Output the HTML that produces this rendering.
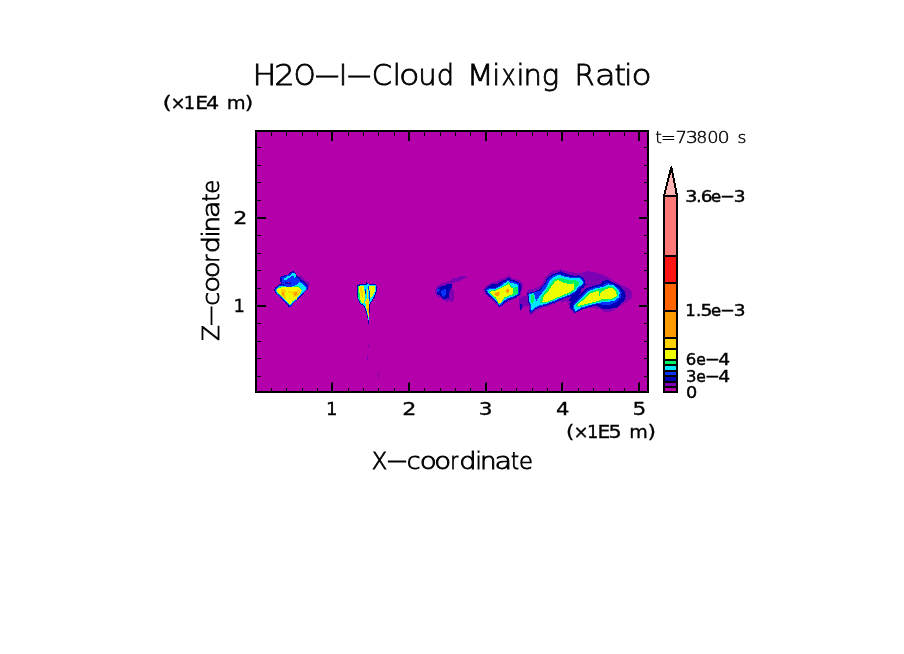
<!DOCTYPE html>
<html lang="en"><head><meta charset="utf-8"><title>H2O-I-Cloud Mixing Ratio</title>
<style>
html,body{margin:0;padding:0;background:#fff;}
body{width:904px;height:654px;overflow:hidden;}
svg{display:block;}
text{font-family:"DejaVu Sans","Liberation Sans",sans-serif;fill:#000;}
.thin{font-family:"DejaVu Sans Light","DejaVu Sans","Liberation Sans",sans-serif;font-weight:200;}
.thin{stroke:#000;stroke-width:0.8px;}
.thinx{font-family:"DejaVu Sans Light","DejaVu Sans","Liberation Sans",sans-serif;font-weight:200;stroke:#000;stroke-width:0.85px;}
.thin2{font-family:"DejaVu Sans Light","DejaVu Sans","Liberation Sans",sans-serif;font-weight:200;stroke:#000;stroke-width:0.45px;}
.lab{stroke:#000;stroke-width:0.3px;}
.cb{stroke:#000;stroke-width:0.45px;}
</style></head><body>
<svg width="904" height="654" viewBox="0 0 904 654">
<rect width="904" height="654" fill="#fff"/>
<g shape-rendering="crispEdges">
<rect x="255" y="130" width="394" height="263" fill="#000"/>
<rect x="257" y="132" width="390" height="259" fill="#B400AA"/>
</g>
<g shape-rendering="crispEdges">
<g transform="translate(270,265) scale(0.0764526)">
<polygon fill="#7D00B4" points="380,120 520,240 510,290 470,300 400,200"/>
<polygon fill="#0000B4" points="300,75 330,95 345,130 385,160 410,190 440,215 470,245 495,270 495,320 460,345 430,385 390,430 340,470 300,510 270,555 250,555 215,510 170,460 120,410 75,365 55,330 70,295 110,265 140,240 135,200 130,170 150,145 190,135 230,125 265,100 290,80"/>
<polygon fill="#0A32FF" points="150,160 200,150 300,95 335,120 350,160 400,200 380,240 330,270 200,270 160,240"/>
<polygon fill="#00E6FF" points="185,175 230,150 275,128 300,105 335,115 342,150 322,178 312,150 298,136 270,156 232,176 208,200 190,200"/>
<polygon fill="#0000B4" points="195,220 270,220 270,255 195,255"/>
<polygon fill="#7D00B4" points="205,225 225,225 225,240 205,240"/>
<polygon fill="#7D00B4" points="240,225 262,225 262,240 240,240"/>
<polygon fill="#0A32FF" points="65,325 100,280 160,265 200,275 260,280 320,270 360,250 385,210 410,215 445,245 485,285 488,320 445,355 405,405 355,455 315,495 270,545 245,530 200,480 150,435 100,390 70,350"/>
<polygon fill="#00E6FF" points="75,320 110,285 160,272 200,280 260,285 320,275 360,255 385,222 405,232 435,262 472,295 475,320 435,350 395,400 345,450 305,490 268,530 245,515 200,465 150,420 100,375 75,345"/>
<polygon fill="#00F064" points="85,320 115,292 170,280 230,287 300,287 350,270 385,285 420,320 405,370 370,410 330,450 290,490 265,522 240,502 200,457 150,412 105,370 85,345"/>
<polygon fill="#F0FF00" points="95,320 120,298 170,288 230,294 300,294 360,284 395,304 415,332 400,370 370,408 350,440 345,470 335,445 320,460 315,485 300,470 265,515 240,497 200,452 150,408 110,368 92,345"/>
<polygon fill="#FFD200" points="145,320 195,310 205,340 200,390 215,430 200,450 170,420 145,400"/>
<polygon fill="#FFD200" points="290,350 340,335 390,325 395,360 370,395 330,425 300,415 290,380"/>
<polygon fill="#FFD200" points="230,345 280,345 285,365 235,360"/>
<polygon fill="#FF9B00" points="160,350 185,345 185,400 165,405"/>
<polygon fill="#FF9B00" points="310,365 360,350 355,385 325,405"/>
</g>
<g transform="translate(345,275) scale(0.0764526)">
<polygon fill="#0000B4" points="160,130 200,120 270,120 285,90 300,110 330,125 370,115 400,115 415,150 415,210 400,260 380,310 350,350 330,380 325,430 320,500 315,570 312,640 300,640 298,580 285,520 270,470 250,420 220,390 185,360 165,320 160,250 155,180"/>
<polygon fill="#00E6FF" points="165,140 270,130 300,120 330,135 370,125 400,130 405,200 390,255 365,310 340,345 320,380 318,450 312,560 305,600 300,560 290,500 275,450 255,410 230,385 195,355 175,315 170,240"/>
<polygon fill="#00F064" points="170,150 250,145 260,300 250,365 225,375 195,345 178,315 172,240"/>
<polygon fill="#F0FF00" points="185,150 245,150 255,200 260,300 250,360 225,370 205,340 195,280 185,200"/>
<polygon fill="#FFD200" points="195,160 215,160 235,230 240,300 225,310 205,240"/>
<polygon fill="#F0FF00" points="320,150 390,140 395,200 375,250 345,290 330,300 325,250 320,190"/>
<polygon fill="#0A32FF" points="306,150 320,150 322,340 312,330"/>
<polygon fill="#0A32FF" points="255,185 275,185 278,245 262,245"/>
<polygon fill="#0000B4" points="262,215 274,215 274,240 264,240"/>
<polygon fill="#F0FF00" points="285,180 302,180 308,330 318,400 318,480 312,560 300,540 290,470 270,400 265,350 285,300"/>
<polygon fill="#FFD200" points="290,200 300,200 305,330 316,400 316,480 308,530 298,500 290,440 275,400 275,350 290,300"/>
<polygon fill="#FF9B00" points="292,430 312,430 310,500 300,500"/>
</g>
<g transform="translate(0,0) scale(1)">
<polygon fill="#7D00B4" points="368,345 369,345 369,348 368,348"/>
<polygon fill="#7D00B4" points="367,356 368,356 368,360 367,360"/>
<polygon fill="#7D00B4" points="364,367 365,367 365,369 364,369"/>
<polygon fill="#7D00B4" points="378,373 379,373 379,378 378,378"/>
</g>
<g transform="translate(425,260) scale(0.0764526)">
<polygon fill="#7D00B4" points="130,400 150,360 180,330 230,305 290,285 340,270 360,240 420,230 470,210 540,210 545,230 500,245 470,270 420,285 370,300 355,340 355,380 375,400 380,520 350,555 330,540 280,545 240,530 200,500 160,480 140,450"/>
<polygon fill="#0000B4" points="150,430 160,380 190,350 260,335 300,315 350,315 355,345 330,390 315,440 310,490 280,510 250,510 210,480 180,455"/>
<polygon fill="#0A32FF" points="165,370 190,385 185,410 160,420"/>
<polygon fill="#0A32FF" points="215,400 270,380 275,430 265,470 240,480 215,450"/>
</g>
<g transform="translate(480,265) scale(0.0764526)">
<polygon fill="#7D00B4" points="45,320 80,280 130,240 200,215 260,190 320,170 375,135 410,160 450,185 510,195 550,225 570,270 550,330 530,390 470,440 400,470 330,500 280,545 245,560 215,520 170,470 110,420 60,370"/>
<polygon fill="#7D00B4" points="510,420 600,400 654,380 654,540 600,540 560,560 520,610"/>
<polygon fill="#0000B4" points="525,520 550,500 545,580 525,590"/>
<polygon fill="#0000B4" points="60,320 100,285 150,255 230,250 270,215 330,195 375,165 400,190 450,200 500,220 530,250 535,320 515,395 460,430 390,455 325,490 280,530 250,550 225,510 180,460 120,410 75,365"/>
<polygon fill="#0A32FF" points="80,320 110,300 200,300 260,270 300,230 340,215 375,190 400,210 450,220 505,240 515,300 505,390 450,420 380,440 320,475 280,520 250,540 230,505 185,450 130,400 95,360"/>
<polygon fill="#00E6FF" points="95,330 125,315 210,310 270,280 320,240 375,205 400,230 450,245 500,260 500,380 440,410 370,430 320,460 275,510 250,530 235,495 195,445 140,395 105,360"/>
<polygon fill="#00F064" points="110,340 200,325 270,295 330,260 380,220 395,260 440,300 495,280 495,375 440,400 370,415 315,445 270,500 245,515 230,480 200,435 150,390 115,360"/>
<polygon fill="#F0FF00" points="120,350 200,335 270,305 340,270 380,245 400,285 430,310 430,380 380,400 320,425 290,470 265,505 240,500 225,460 200,420 155,385"/>
<polygon fill="#FFD200" points="175,375 220,350 265,345 270,370 245,400 230,420 200,400"/>
<polygon fill="#FFD200" points="330,330 360,300 385,315 385,350 360,375 335,360"/>
<polygon fill="#FF9B00" points="190,378 225,358 255,355 240,395 225,410 205,395"/>
<polygon fill="#FF9B00" points="340,330 362,310 378,322 376,348 358,365 342,355"/>
</g>
<g transform="translate(515,255) scale(0.107032)">
<polygon fill="#7D00B4" points="110,350 130,320 200,310 250,270 290,200 330,160 400,135 450,160 520,175 600,165 700,180 700,420 480,430 400,445 330,475 250,495 190,525 150,560 130,545 130,470 110,440"/>
</g>
<g transform="translate(560,255) scale(0.107032)">
<polygon fill="#7D00B4" points="0,130 100,160 180,170 260,150 340,165 420,190 500,240 580,280 640,310 675,350 670,400 620,440 560,480 500,520 430,540 380,510 300,490 200,510 130,550 90,510 80,470 60,430 0,420"/>
<polygon fill="#0000B4" points="0,150 60,175 130,195 200,205 235,240 240,280 215,310 190,325 200,350 160,390 110,440 80,420 120,370 100,380 0,425"/>
<polygon fill="#0A32FF" points="0,165 80,195 160,208 210,222 230,255 215,295 180,310 150,350 80,392 0,420"/>
<polygon fill="#00E6FF" points="0,185 80,215 160,225 200,235 220,260 200,290 170,300 140,340 80,380 0,415"/>
<polygon fill="#00F064" points="0,215 80,235 150,245 180,260 150,290 130,330 70,370 0,400"/>
<polygon fill="#F0FF00" points="0,245 60,260 125,265 130,300 110,340 50,370 0,390"/>
<polygon fill="#0000B4" points="90,490 100,440 140,400 200,360 250,310 310,290 380,270 400,240 450,235 500,260 560,290 600,330 615,380 600,430 560,460 540,490 480,500 420,510 370,490 340,470 280,485 200,510 140,540 120,520"/>
<polygon fill="#0A32FF" points="120,480 145,435 200,380 260,325 330,300 400,285 440,260 500,275 550,310 575,350 570,400 540,430 500,450 460,470 400,470 360,455 280,475 200,500 140,535 125,510"/>
<polygon fill="#00E6FF" points="130,470 160,440 210,390 270,335 340,310 410,295 450,275 500,285 540,320 560,350 550,395 510,425 440,440 370,445 290,465 200,490 145,525 135,500"/>
<polygon fill="#00F064" points="150,465 220,400 280,345 350,320 420,305 455,290 500,300 530,330 545,355 535,390 500,415 430,430 370,435 290,455 210,480 155,490"/>
<polygon fill="#F0FF00" points="165,465 230,410 290,355 360,335 365,400 375,360 410,330 460,305 500,315 525,345 530,380 495,405 420,415 380,415 360,430 290,445 220,465 170,475"/>
</g>
<g transform="translate(515,255) scale(0.107032)">
<polygon fill="#0000B4" points="115,355 180,345 230,320 280,260 300,215 350,180 410,160 450,180 530,195 600,190 640,215 654,260 640,290 600,320 570,360 520,385 450,410 380,440 310,465 240,485 190,510 150,545 135,520 140,470 125,450 120,400"/>
<polygon fill="#0A32FF" points="125,360 180,350 235,330 285,270 310,225 355,192 410,172 450,190 530,205 600,202 635,225 645,262 625,288 595,312 565,350 510,380 440,405 370,435 300,460 235,478 190,500 155,532 140,512 145,465 130,445"/>
<polygon fill="#00E6FF" points="135,365 180,355 185,400 200,430 240,370 290,310 320,250 360,205 410,185 450,200 530,215 600,215 630,240 635,270 600,295 560,340 500,375 430,400 360,430 290,455 230,470 190,490 160,520 145,505 150,460 135,440"/>
<polygon fill="#00F064" points="145,375 180,365 180,410 170,450 150,445"/>
<polygon fill="#00F064" points="230,450 245,390 290,330 330,270 370,225 420,210 460,225 530,235 590,240 600,270 570,310 540,345 480,375 410,400 340,430 280,450"/>
<polygon fill="#F0FF00" points="255,440 265,390 310,340 350,280 380,240 410,235 450,260 510,270 550,265 550,320 520,345 460,370 400,395 330,425 290,440"/>
</g>
</g>
<g shape-rendering="crispEdges" fill="#000">
<rect x="271" y="388" width="1" height="3"/><rect x="271" y="132" width="1" height="4"/><rect x="286" y="388" width="1" height="3"/><rect x="286" y="132" width="1" height="4"/><rect x="302" y="388" width="1" height="3"/><rect x="302" y="132" width="1" height="4"/><rect x="317" y="388" width="1" height="3"/><rect x="317" y="132" width="1" height="4"/><rect x="331" y="383" width="1" height="8"/><rect x="332" y="382" width="1" height="9"/><rect x="331" y="132" width="2" height="9"/><rect x="348" y="388" width="1" height="3"/><rect x="348" y="132" width="1" height="4"/><rect x="363" y="388" width="1" height="3"/><rect x="363" y="132" width="1" height="4"/><rect x="378" y="388" width="1" height="3"/><rect x="378" y="132" width="1" height="4"/><rect x="394" y="388" width="1" height="3"/><rect x="394" y="132" width="1" height="4"/><rect x="408" y="383" width="1" height="8"/><rect x="409" y="382" width="1" height="9"/><rect x="408" y="132" width="2" height="9"/><rect x="424" y="388" width="1" height="3"/><rect x="424" y="132" width="1" height="4"/><rect x="440" y="388" width="1" height="3"/><rect x="440" y="132" width="1" height="4"/><rect x="455" y="388" width="1" height="3"/><rect x="455" y="132" width="1" height="4"/><rect x="470" y="388" width="1" height="3"/><rect x="470" y="132" width="1" height="4"/><rect x="485" y="383" width="1" height="8"/><rect x="486" y="382" width="1" height="9"/><rect x="485" y="132" width="2" height="9"/><rect x="501" y="388" width="1" height="3"/><rect x="501" y="132" width="1" height="4"/><rect x="516" y="388" width="1" height="3"/><rect x="516" y="132" width="1" height="4"/><rect x="532" y="388" width="1" height="3"/><rect x="532" y="132" width="1" height="4"/><rect x="547" y="388" width="1" height="3"/><rect x="547" y="132" width="1" height="4"/><rect x="561" y="383" width="1" height="8"/><rect x="562" y="382" width="1" height="9"/><rect x="561" y="132" width="2" height="9"/><rect x="578" y="388" width="1" height="3"/><rect x="578" y="132" width="1" height="4"/><rect x="593" y="388" width="1" height="3"/><rect x="593" y="132" width="1" height="4"/><rect x="609" y="388" width="1" height="3"/><rect x="609" y="132" width="1" height="4"/><rect x="624" y="388" width="1" height="3"/><rect x="624" y="132" width="1" height="4"/><rect x="638" y="383" width="1" height="8"/><rect x="639" y="382" width="1" height="9"/><rect x="638" y="132" width="2" height="9"/><rect x="257" y="376" width="4" height="1"/><rect x="644" y="376" width="3" height="1"/><rect x="257" y="358" width="4" height="1"/><rect x="644" y="358" width="3" height="1"/><rect x="257" y="341" width="4" height="1"/><rect x="644" y="341" width="3" height="1"/><rect x="257" y="323" width="4" height="1"/><rect x="644" y="323" width="3" height="1"/><rect x="257" y="305" width="9" height="2"/><rect x="639" y="305" width="8" height="2"/><rect x="257" y="288" width="4" height="1"/><rect x="644" y="288" width="3" height="1"/><rect x="257" y="270" width="4" height="1"/><rect x="644" y="270" width="3" height="1"/><rect x="257" y="253" width="4" height="1"/><rect x="644" y="253" width="3" height="1"/><rect x="257" y="235" width="4" height="1"/><rect x="644" y="235" width="3" height="1"/><rect x="257" y="217" width="9" height="2"/><rect x="639" y="217" width="8" height="2"/><rect x="257" y="200" width="4" height="1"/><rect x="644" y="200" width="3" height="1"/><rect x="257" y="182" width="4" height="1"/><rect x="644" y="182" width="3" height="1"/><rect x="257" y="165" width="4" height="1"/><rect x="644" y="165" width="3" height="1"/><rect x="257" y="147" width="4" height="1"/><rect x="644" y="147" width="3" height="1"/>
</g>
<g shape-rendering="crispEdges" fill="#000">
<rect x="664" y="387" width="13" height="5" fill="#B400AA"/><rect x="664" y="382" width="13" height="5" fill="#7D00B4"/><rect x="664" y="376" width="13" height="6" fill="#0000B4"/><rect x="664" y="371" width="13" height="5" fill="#0A32FF"/><rect x="664" y="365" width="13" height="6" fill="#00E6FF"/><rect x="664" y="360" width="13" height="5" fill="#00F064"/><rect x="664" y="349" width="13" height="11" fill="#F0FF00"/><rect x="664" y="338" width="13" height="11" fill="#FFD200"/><rect x="664" y="311" width="13" height="27" fill="#FF9B00"/><rect x="664" y="283" width="13" height="28" fill="#FF6400"/><rect x="664" y="256" width="13" height="27" fill="#FF1414"/><rect x="664" y="196" width="13" height="60" fill="#FF7878"/><rect x="663" y="391" width="15" height="2"/><rect x="663" y="386" width="15" height="2"/><rect x="663" y="381" width="15" height="2"/><rect x="663" y="375" width="15" height="2"/><rect x="663" y="370" width="15" height="2"/><rect x="663" y="364" width="15" height="2"/><rect x="663" y="359" width="15" height="2"/><rect x="663" y="348" width="15" height="2"/><rect x="663" y="337" width="15" height="2"/><rect x="663" y="310" width="15" height="2"/><rect x="663" y="282" width="15" height="2"/><rect x="663" y="255" width="15" height="2"/><rect x="663" y="195" width="15" height="2"/><rect x="663" y="195" width="2" height="198"/><rect x="676" y="195" width="2" height="198"/><polygon points="664,196 671.4,167.2 677,196" fill="#FFB4B4" stroke="#000" stroke-width="2" stroke-linejoin="round"/>
</g>
<text class="thin" x="252.43 274.27 293.84 313.15 338.75 345.51 371.66 392.66 398.95 418.20 436.72 454.12 466.79 492.19 501.47 516.59 523.53 541.77 559.17 574.42 595.13 614.62 624.19 631.50" y="84.80 84.80 84.80 83.70 84.80 83.70 84.80 84.80 84.80 84.80 84.80 84.80 84.80 84.80 84.80 84.80 84.80 84.80 84.80 84.80 84.80 84.80 84.80 84.80" font-size="29" ><tspan textLength="23.91" lengthAdjust="spacingAndGlyphs">H</tspan><tspan textLength="20.44" lengthAdjust="spacingAndGlyphs">2</tspan><tspan textLength="21.82" lengthAdjust="spacingAndGlyphs">O</tspan><tspan textLength="27.70" lengthAdjust="spacingAndGlyphs">-</tspan>I<tspan textLength="27.28" lengthAdjust="spacingAndGlyphs">-</tspan>Cl<tspan textLength="20.52" lengthAdjust="spacingAndGlyphs">o</tspan>u<tspan textLength="17.42" lengthAdjust="spacingAndGlyphs">d</tspan> <tspan textLength="26.93" lengthAdjust="spacingAndGlyphs">M</tspan>i<tspan textLength="14.16" lengthAdjust="spacingAndGlyphs">x</tspan>ing R<tspan textLength="20.70" lengthAdjust="spacingAndGlyphs">a</tspan>ti<tspan textLength="20.12" lengthAdjust="spacingAndGlyphs">o</tspan></text>
<text class="lab" x="162.53 170.50 183.67 195.19 206.09 216.89 226.74 244.75" y="108.7" font-size="18" ><tspan textLength="9.40" lengthAdjust="spacingAndGlyphs">(</tspan><tspan font-size="18">×</tspan>1<tspan textLength="12.91" lengthAdjust="spacingAndGlyphs">E</tspan><tspan textLength="13.17" lengthAdjust="spacingAndGlyphs">4</tspan> <tspan textLength="18.91" lengthAdjust="spacingAndGlyphs">m</tspan><tspan textLength="8.53" lengthAdjust="spacingAndGlyphs">)</tspan></text>
<text class="thin2" x="655.16 661.14 675.52 685.73 696.36 707.31 717.49 727.09 737.51" y="142.8" font-size="16" ><tspan textLength="6.63" lengthAdjust="spacingAndGlyphs">t</tspan><tspan textLength="14.72" lengthAdjust="spacingAndGlyphs">=</tspan><tspan textLength="11.48" lengthAdjust="spacingAndGlyphs">7</tspan><tspan textLength="12.30" lengthAdjust="spacingAndGlyphs">3</tspan><tspan textLength="11.10" lengthAdjust="spacingAndGlyphs">8</tspan><tspan textLength="11.35" lengthAdjust="spacingAndGlyphs">0</tspan><tspan textLength="12.19" lengthAdjust="spacingAndGlyphs">0</tspan> <tspan textLength="8.91" lengthAdjust="spacingAndGlyphs">s</tspan></text>
<text class="lab" x="233.27" y="224" font-size="18" ><tspan textLength="14.16" lengthAdjust="spacingAndGlyphs">2</tspan></text>
<text class="lab" x="233.57" y="312" font-size="18" >1</text>
<text class="lab" x="326.07" y="415" font-size="18" >1</text>
<text class="lab" x="402.27" y="415" font-size="18" ><tspan textLength="14.16" lengthAdjust="spacingAndGlyphs">2</tspan></text>
<text class="lab" x="478.85" y="415" font-size="18" ><tspan textLength="13.79" lengthAdjust="spacingAndGlyphs">3</tspan></text>
<text class="lab" x="555.97" y="415" font-size="18" ><tspan textLength="13.41" lengthAdjust="spacingAndGlyphs">4</tspan></text>
<text class="lab" x="632.43" y="415" font-size="18" ><tspan textLength="13.76" lengthAdjust="spacingAndGlyphs">5</tspan></text>
<text class="lab" x="566.06 573.50 587.02 597.62 608.60 619.40 629.17 647.45" y="438" font-size="18" ><tspan textLength="8.36" lengthAdjust="spacingAndGlyphs">(</tspan><tspan font-size="18">×</tspan>1<tspan textLength="12.78" lengthAdjust="spacingAndGlyphs">E</tspan><tspan textLength="13.22" lengthAdjust="spacingAndGlyphs">5</tspan> <tspan textLength="18.55" lengthAdjust="spacingAndGlyphs">m</tspan><tspan textLength="8.53" lengthAdjust="spacingAndGlyphs">)</tspan></text>
<text class="thinx" x="371.73 385.91 406.79 419.80 434.32 450.38 459.33 475.55 480.04 494.64 510.99 518.96" y="468.70 468.20 468.70 468.70 468.70 468.70 468.70 468.70 468.70 468.70 468.70 468.70" font-size="22.6" >X<tspan textLength="22.07" lengthAdjust="spacingAndGlyphs">-</tspan><tspan textLength="13.76" lengthAdjust="spacingAndGlyphs">c</tspan><tspan textLength="17.01" lengthAdjust="spacingAndGlyphs">o</tspan><tspan textLength="16.88" lengthAdjust="spacingAndGlyphs">o</tspan><tspan textLength="7.64" lengthAdjust="spacingAndGlyphs">r</tspan><tspan textLength="17.28" lengthAdjust="spacingAndGlyphs">d</tspan>i<tspan textLength="16.57" lengthAdjust="spacingAndGlyphs">n</tspan><tspan textLength="17.61" lengthAdjust="spacingAndGlyphs">a</tspan><tspan textLength="7.95" lengthAdjust="spacingAndGlyphs">t</tspan>e</text>
<text class="thinx" x="-1.24 12.91 33.79 46.80 61.32 77.38 86.33 102.55 107.04 121.64 137.99 145.96" y="0.00 -0.50 0.00 0.00 0.00 0.00 0.00 0.00 0.00 0.00 0.00 0.00" font-size="22.6" transform="translate(218.6,339.6) rotate(-90)">Z<tspan textLength="22.07" lengthAdjust="spacingAndGlyphs">-</tspan><tspan textLength="13.76" lengthAdjust="spacingAndGlyphs">c</tspan><tspan textLength="17.01" lengthAdjust="spacingAndGlyphs">o</tspan><tspan textLength="16.88" lengthAdjust="spacingAndGlyphs">o</tspan><tspan textLength="7.64" lengthAdjust="spacingAndGlyphs">r</tspan><tspan textLength="17.28" lengthAdjust="spacingAndGlyphs">d</tspan>i<tspan textLength="16.57" lengthAdjust="spacingAndGlyphs">n</tspan><tspan textLength="17.61" lengthAdjust="spacingAndGlyphs">a</tspan><tspan textLength="7.95" lengthAdjust="spacingAndGlyphs">t</tspan>e</text>
<text class="cb" x="685.34 696.14 700.71 710.96 720.23 733.89" y="201.80 201.80 201.80 201.80 200.60 201.80" font-size="16.5" ><tspan textLength="12.19" lengthAdjust="spacingAndGlyphs">3</tspan>.<tspan textLength="11.75" lengthAdjust="spacingAndGlyphs">6</tspan>e<tspan textLength="14.53" lengthAdjust="spacingAndGlyphs">-</tspan><tspan textLength="11.80" lengthAdjust="spacingAndGlyphs">3</tspan></text>
<text class="cb" x="685.16 695.89 700.54 710.96 720.23 733.89" y="315.80 315.80 315.80 315.80 314.60 315.80" font-size="16.5" >1.<tspan textLength="12.00" lengthAdjust="spacingAndGlyphs">5</tspan>e<tspan textLength="14.53" lengthAdjust="spacingAndGlyphs">-</tspan><tspan textLength="11.80" lengthAdjust="spacingAndGlyphs">3</tspan></text>
<text class="cb" x="685.79 696.34 705.10 718.19" y="365.00 365.00 363.80 365.00" font-size="16.5" >6<tspan textLength="9.59" lengthAdjust="spacingAndGlyphs">e</tspan><tspan textLength="14.81" lengthAdjust="spacingAndGlyphs">-</tspan><tspan textLength="11.86" lengthAdjust="spacingAndGlyphs">4</tspan></text>
<text class="cb" x="685.88 696.34 705.10 718.19" y="382.00 382.00 380.80 382.00" font-size="16.5" >3<tspan textLength="9.59" lengthAdjust="spacingAndGlyphs">e</tspan><tspan textLength="14.81" lengthAdjust="spacingAndGlyphs">-</tspan><tspan textLength="11.86" lengthAdjust="spacingAndGlyphs">4</tspan></text>
<text class="cb" x="685.94" y="398.1" font-size="16.5" ><tspan textLength="11.24" lengthAdjust="spacingAndGlyphs">0</tspan></text>

</svg>
</body></html>
